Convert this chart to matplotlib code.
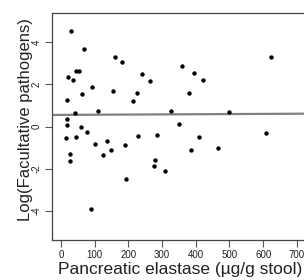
import matplotlib
matplotlib.use("Agg")
import matplotlib.pyplot as plt
import numpy as np

elastase = [30, 67, 160, 181, 623, 359, 396, 421, 44, 52, 22, 36, 239, 265, 93,
            153, 226, 381, 62, 18, 215, 42, 110, 326, 499, 19, 17, 58, 77, 351,
            15, 45, 101, 135, 147, 191, 227, 285, 126, 26, 28, 279, 276, 310,
            193, 90, 609, 409, 385, 466]
log_path = [4.53, 3.70, 3.30, 3.06, 3.31, 2.90, 2.54, 2.21, 2.64, 2.64, 2.37, 2.20,
            2.48, 2.15, 1.89, 1.70, 1.61, 1.60, 1.54, 1.24, 1.20, 0.64, 0.75, 0.72,
            0.69, 0.35, 0.08, -0.01, -0.24, 0.14, -0.54, -0.51, -0.85, -0.70, -1.11,
            -0.87, -0.47, -0.40, -1.35, -1.29, -1.62, -1.61, -1.90, -2.13, -2.51,
            -3.92, -0.30, -0.49, -1.14, -1.04]
fit_x = [-28, 728]
fit_y = [0.55, 0.61]
xticks = [0, 100, 200, 300, 400, 500, 600, 700]
yticks = [-4, -2, 0, 2, 4]

plt.rcParams['font.family'] = ['Liberation Sans', 'DejaVu Sans']
fig = plt.figure(figsize=(3.04, 2.80), dpi=100)
ax = fig.add_axes([51.6/304, 1-240/280, (306.3-51.6)/304, (240-13)/280])
ax.plot(fit_x, fit_y, color='#808080', lw=1.6, zorder=1)
ax.scatter(elastase, log_path, s=10, color='black', zorder=2, linewidths=0)
ax.set_xlim(-28, 728)
ax.set_ylim(-5.4, 5.4)
ax.set_xticks(xticks)
ax.set_yticks(yticks)
ax.set_yticklabels([str(v) for v in yticks], rotation=90, va='center')
ax.tick_params(axis='both', length=5, width=0.8, color='#555555', labelsize=7, pad=2, labelcolor='#222222')
for s in ax.spines.values():
    s.set_color('#444444')
    s.set_linewidth(0.9)
ax.set_xlabel('Pancreatic elastase (\u00b5g/g stool)', fontsize=12.5, color='#222222')
ax.set_ylabel('Log(Facultative pathogens)', fontsize=12, color='#222222')
ax.xaxis.label.set_va('center')
ax.yaxis.label.set_va('center')
ax.xaxis.set_label_coords(0.504, -0.132)
ax.yaxis.set_label_coords(-0.104, 0.529)
fig.savefig('out.png', dpi=100)
